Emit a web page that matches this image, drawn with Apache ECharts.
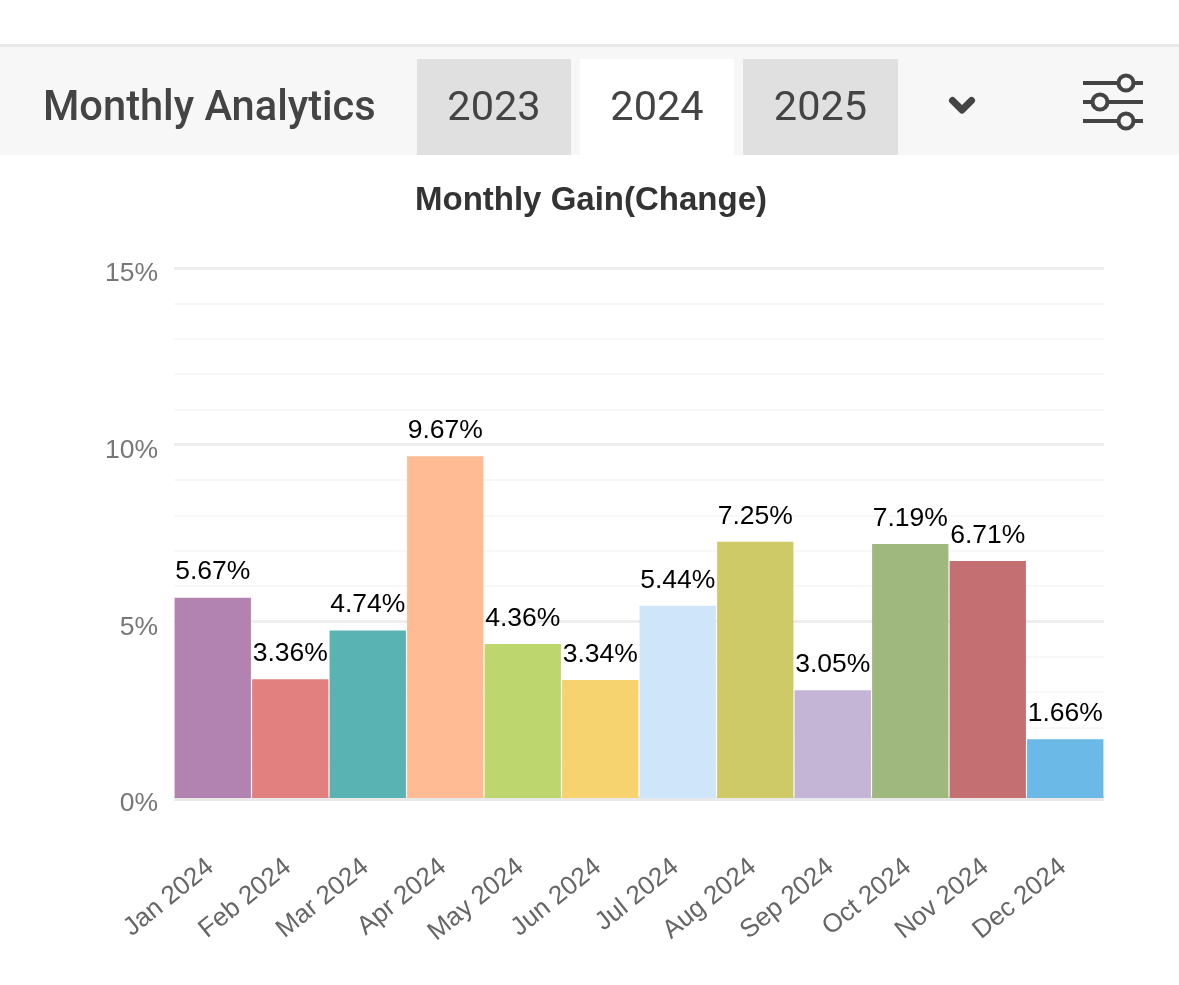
<!DOCTYPE html>
<html><head><meta charset="utf-8">
<style>html,body{margin:0;padding:0;background:#fff}#c{width:1179px;height:985px}</style>
<script src="https://cdn.jsdelivr.net/npm/echarts@6/dist/echarts.min.js"></script>
</head><body><div id="c"></div>
<script>
const categories=['Jan 2024','Feb 2024','Mar 2024','Apr 2024','May 2024','Jun 2024','Jul 2024','Aug 2024','Sep 2024','Oct 2024','Nov 2024','Dec 2024'];
const gains=[5.67,3.36,4.74,9.67,4.36,3.34,5.44,7.25,3.05,7.19,6.71,1.66];
const barColors=['#B283B1','#E28080','#59B3B3','#FFBB93','#BDD66D','#F6D36F','#CFE5FA','#CFCA68','#C4B5D7','#9FB87E','#C47072','#6AB9E6'];
const headerTitle='Monthly Analytics';
const chartTitle='Monthly Gain(Change)';
const years=['2023','2024','2025'];
const activeYear='2024';
const tabX=[417,580,743], tabW=[154,154,155];
const ink='#444444';

const g=[
 {type:'rect',shape:{x:0,y:44,width:1179,height:3},style:{fill:'#E8E8E8'},silent:true},
 {type:'rect',shape:{x:0,y:47,width:1179,height:108},style:{fill:'#F7F7F7'},silent:true},
 {type:'text',x:43,y:110,style:{text:headerTitle,font:'500 41.6px Roboto',fill:ink,textVerticalAlign:'middle'}}
];
years.forEach((y,i)=>{
 g.push({type:'rect',shape:{x:tabX[i],y:59,width:tabW[i],height:96},style:{fill:y===activeYear?'#FFFFFF':'#E0E0E0'},silent:true});
 g.push({type:'text',x:tabX[i]+tabW[i]/2,y:110,style:{text:y,font:'400 41.5px Roboto',fill:ink,textAlign:'center',textVerticalAlign:'middle'}});
});
g.push({type:'polyline',shape:{points:[[952.5,100.5],[962,110],[971.5,100.5]]},style:{stroke:ink,lineWidth:7,fill:null,lineCap:'round',lineJoin:'round'}});
[[83,1126],[102,1100],[121,1126]].forEach(([y,cx])=>{
 g.push({type:'line',shape:{x1:1083,y1:y,x2:1143,y2:y},style:{stroke:ink,lineWidth:4}});
 g.push({type:'circle',shape:{cx:cx,cy:y,r:7.5},style:{fill:'#F7F7F7',stroke:ink,lineWidth:4}});
});

const chart=echarts.init(document.getElementById('c'),null,{renderer:'canvas'});
chart.setOption({
 animation:false,
 backgroundColor:'#fff',
 title:{text:chartTitle,left:415,top:183,textStyle:{fontFamily:'Liberation Sans',fontWeight:'bold',fontSize:33,color:'#333333',lineHeight:36},padding:0},
 graphic:g,
 grid:{left:174,right:75,top:268,height:530,containLabel:false},
 xAxis:{type:'category',data:categories,
  axisTick:{show:false},
  axisLine:{show:true,lineStyle:{color:'#E9E9E9',width:5,cap:'butt'}},
  axisLabel:{rotate:39,interval:0,margin:64,formatter:'{l|{value}}',
   rich:{l:{padding:[0,3,0,0],fontFamily:'Liberation Sans',fontSize:26,color:'#666666'}}}},
 yAxis:{type:'value',min:0,max:15,interval:5,
  axisLine:{show:false},axisTick:{show:false},
  axisLabel:{formatter:'{value}%',margin:16,verticalAlign:'top',lineHeight:12,fontFamily:'Liberation Sans',fontSize:26.5,color:'#777777'},
  splitLine:{lineStyle:{color:'#EEEEEE',width:3}},
  minorTick:{show:false,splitNumber:5},
  minorSplitLine:{show:true,lineStyle:{color:'#F8F8F8',width:2}}},
 series:[{type:'bar',barCategoryGap:'1.5%',
  data:gains.map((v,i)=>({value:v,itemStyle:{color:barColors[i]}})),
  label:{show:true,position:'top',distance:12,formatter:p=>p.value.toFixed(2)+'%',fontFamily:'Liberation Sans',fontSize:26.5,color:'#000000'}}]
});
</script></body></html>
